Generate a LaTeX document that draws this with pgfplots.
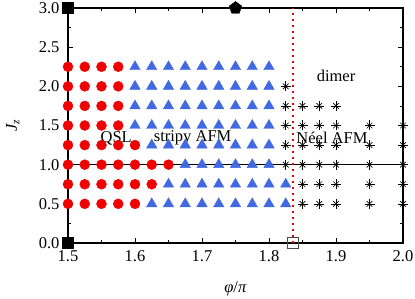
\documentclass[border=0pt]{standalone}
\usepackage{fontspec}
\setmainfont{Liberation Serif}
\usepackage{pgfplots}
\pgfplotsset{compat=1.18}
\usetikzlibrary{calc}
\definecolor{myred}{RGB}{240,0,0}
\definecolor{myblue}{RGB}{65,105,225}
\newcommand{\bigf}{\fontsize{16.5}{18}\selectfont}
\begin{document}
\begin{tikzpicture}
\begin{axis}[
  scale only axis,
  width=335pt, height=235pt,
  xmin=1.5, xmax=2.0, ymin=0, ymax=3.0,
  xtick={1.5,1.6,...,2.01}, ytick={0,0.5,...,3.01},
  minor x tick num=1, minor y tick num=1,
  tick align=inside,
  major tick length=5pt, minor tick length=3pt,
  axis line style={line width=1.2pt},
  every tick/.style={black, line width=0.6pt},
  xticklabel style={font=\bigf, yshift=-4pt},
  yticklabel style={font=\bigf, xshift=-5pt},
  xticklabel={\pgfmathprintnumber[fixed,fixed zerofill,precision=1,assume math mode=true]{\tick}},
  yticklabel={\pgfmathprintnumber[fixed,fixed zerofill,precision=1,assume math mode=true]{\tick}},
  xlabel={\bigf\textit{φ}/\textit{π}},
  ylabel={\bigf\textit{J}\textsubscript{\textit{z}}},
  xlabel style={at={(axis description cs:0.5,0)}, anchor=north, yshift=-35pt},
  ylabel style={at={(axis description cs:0,0.5)}, anchor=south, yshift=45pt},
  clip=false,
]
\coordinate (ll) at (rel axis cs:0,0);
\coordinate (ur) at (rel axis cs:1,1);
% horizontal line at Jz = 1
\addplot[black, line width=0.9pt, forget plot] coordinates {(1.5,1.0) (2.0,1.0)};
% vertical dotted red line
\addplot[draw=myred, line width=1.3pt, dash pattern=on 2pt off 4pt, forget plot] coordinates {(1.836,0) (1.836,3.0)};
% QSL
\addplot[only marks, mark=*, mark size=5pt, myred, mark options={fill=myred, draw=myred}] coordinates {
(1.5,2.25) (1.525,2.25) (1.55,2.25) (1.575,2.25)
(1.5,2.0) (1.525,2.0) (1.55,2.0) (1.575,2.0)
(1.5,1.75) (1.525,1.75) (1.55,1.75) (1.575,1.75)
(1.5,1.5) (1.525,1.5) (1.55,1.5) (1.575,1.5)
(1.5,1.25) (1.525,1.25) (1.55,1.25) (1.575,1.25) (1.6,1.25)
(1.5,1.0) (1.525,1.0) (1.55,1.0) (1.575,1.0) (1.6,1.0) (1.625,1.0) (1.65,1.0)
(1.5,0.75) (1.525,0.75) (1.55,0.75) (1.575,0.75) (1.6,0.75) (1.625,0.75)
(1.5,0.5) (1.525,0.5) (1.55,0.5) (1.575,0.5) (1.6,0.5)
};
% stripy AFM
\addplot[only marks, mark=triangle*, mark size=6pt, myblue, mark options={fill=myblue, draw=myblue}] coordinates {
(1.6,2.25) (1.625,2.25) (1.65,2.25) (1.675,2.25) (1.7,2.25) (1.725,2.25) (1.75,2.25) (1.775,2.25) (1.8,2.25)
(1.6,2.0) (1.625,2.0) (1.65,2.0) (1.675,2.0) (1.7,2.0) (1.725,2.0) (1.75,2.0) (1.775,2.0) (1.8,2.0)
(1.6,1.75) (1.625,1.75) (1.65,1.75) (1.675,1.75) (1.7,1.75) (1.725,1.75) (1.75,1.75) (1.775,1.75) (1.8,1.75)
(1.6,1.5) (1.625,1.5) (1.65,1.5) (1.675,1.5) (1.7,1.5) (1.725,1.5) (1.75,1.5) (1.775,1.5) (1.8,1.5)
(1.625,1.25) (1.65,1.25) (1.675,1.25) (1.7,1.25) (1.725,1.25) (1.75,1.25) (1.775,1.25) (1.8,1.25)
(1.675,1.0) (1.7,1.0) (1.725,1.0) (1.75,1.0) (1.775,1.0) (1.8,1.0)
(1.65,0.75) (1.675,0.75) (1.7,0.75) (1.725,0.75) (1.75,0.75) (1.775,0.75) (1.8,0.75) (1.825,0.75)
(1.625,0.5) (1.65,0.5) (1.675,0.5) (1.7,0.5) (1.725,0.5) (1.75,0.5) (1.775,0.5) (1.8,0.5) (1.825,0.5)
};
% Neel AFM (8-armed asterisk: + and x)
\addplot[only marks, mark=+, mark size=5pt, black, mark options={line width=0.6pt}] coordinates {
(1.825,2.0)
(1.825,1.75) (1.85,1.75) (1.875,1.75) (1.9,1.75)
(1.825,1.5) (1.85,1.5) (1.875,1.5) (1.9,1.5) (1.95,1.5) (2.0,1.5)
(1.825,1.25) (1.85,1.25) (1.875,1.25) (1.9,1.25) (1.95,1.25) (2.0,1.25)
(1.825,1.0) (1.85,1.0) (1.875,1.0) (1.9,1.0) (1.95,1.0) (2.0,1.0)
(1.85,0.75) (1.875,0.75) (1.9,0.75) (1.95,0.75) (2.0,0.75)
(1.85,0.5) (1.875,0.5) (1.9,0.5) (1.95,0.5) (2.0,0.5)
};
\addplot[only marks, mark=x, mark size=4pt, black, mark options={line width=0.6pt}] coordinates {
(1.825,2.0)
(1.825,1.75) (1.85,1.75) (1.875,1.75) (1.9,1.75)
(1.825,1.5) (1.85,1.5) (1.875,1.5) (1.9,1.5) (1.95,1.5) (2.0,1.5)
(1.825,1.25) (1.85,1.25) (1.875,1.25) (1.9,1.25) (1.95,1.25) (2.0,1.25)
(1.825,1.0) (1.85,1.0) (1.875,1.0) (1.9,1.0) (1.95,1.0) (2.0,1.0)
(1.85,0.75) (1.875,0.75) (1.9,0.75) (1.95,0.75) (2.0,0.75)
(1.85,0.5) (1.875,0.5) (1.9,0.5) (1.95,0.5) (2.0,0.5)
};
% special points
\addplot[only marks, mark=square*, mark size=5.5pt, black] coordinates {(1.5,0) (1.5,3.0)};
\addplot[only marks, mark=pentagon*, mark size=6.5pt, black] coordinates {(1.75,3.0)};
\addplot[only marks, mark=square, mark size=5.5pt, black!70, mark options={line width=0.6pt}] coordinates {(1.836,0)};
% labels
\node[font=\bigf] at (axis cs:1.572,1.34) {QSL};
\node[font=\bigf] at (axis cs:1.686,1.34) {stripy AFM};
\node[font=\bigf] at (axis cs:1.894,1.34) {Néel AFM};
\node[font=\bigf] at (axis cs:1.9,2.13) {dimer};
\end{axis}
\pgfresetboundingbox
\path ($(ll)+(-68pt,-56pt)$) rectangle ($(ur)+(12pt,8pt)$);
\end{tikzpicture}
\end{document}
